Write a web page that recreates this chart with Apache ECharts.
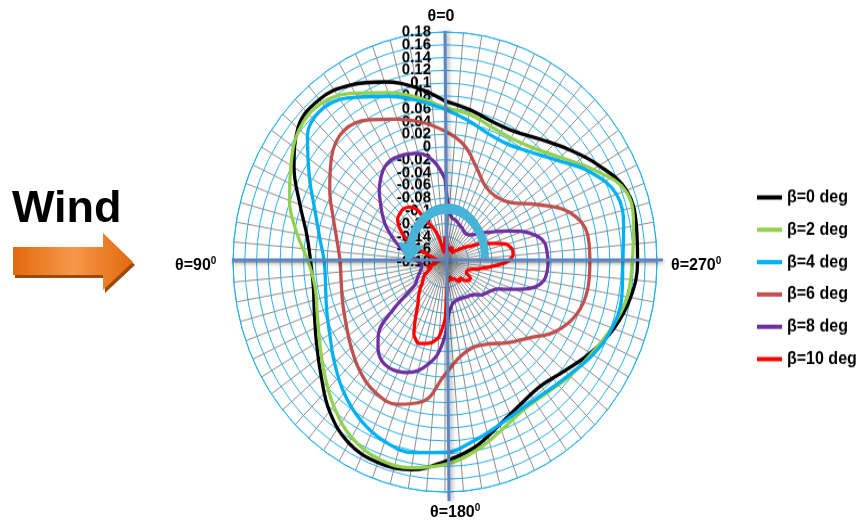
<!DOCTYPE html>
<html><head><meta charset="utf-8">
<script src="https://cdn.jsdelivr.net/npm/echarts@6/dist/echarts.min.js"></script>
<style>
html,body{margin:0;padding:0;background:#fff;}
#wrap{position:relative;width:857px;height:524px;overflow:hidden;background:#fff;}
#polar{position:absolute;left:0;top:0;width:857px;height:524px;transform-origin:445px 262px;transform:scaleY(1.085);}
#overlay{position:absolute;left:0;top:0;width:857px;height:524px;pointer-events:none;}
</style></head><body>
<div id="wrap"><div id="polar"></div><div id="overlay"></div></div>
<script>
// ---- data ----
const seriesNames = ['β=0 deg','β=2 deg','β=4 deg','β=6 deg','β=8 deg','β=10 deg'];
const angles10 = [0,10,20,30,40,50,60,70,80,90,100,110,120,130,140,150,160,170,180,190,200,210,220,230,240,250,260,270,280,290,300,310,320,330,340,350];
const angles5 = [0,5,10,15,20,25,30,35,40,45,50,55,60,65,70,75,80,85,90,95,100,105,110,115,120,125,130,135,140,145,150,155,160,165,170,175,180,185,190,195,200,205,210,215,220,225,230,235,240,245,250,255,260,265,270,275,280,285,290,295,300,305,310,315,320,325,330,335,340,345,350,355];
const beta0 = [0.072,0.097,0.120,0.140,0.152,0.146,0.116,0.082,0.058,0.048,0.047,0.056,0.072,0.095,0.125,0.147,0.154,0.150,0.132,0.114,0.091,0.077,0.073,0.085,0.105,0.125,0.140,0.147,0.150,0.148,0.122,0.094,0.071,0.056,0.054,0.062];
const beta2 = [0.061,0.081,0.102,0.125,0.145,0.143,0.122,0.101,0.075,0.052,0.044,0.051,0.066,0.088,0.114,0.137,0.148,0.147,0.137,0.120,0.100,0.087,0.088,0.097,0.107,0.121,0.134,0.138,0.145,0.146,0.110,0.075,0.053,0.044,0.046,0.055];
const beta4 = [0.059,0.076,0.096,0.118,0.137,0.125,0.086,0.055,0.036,0.025,0.026,0.034,0.046,0.065,0.087,0.106,0.119,0.123,0.118,0.104,0.091,0.084,0.086,0.095,0.110,0.122,0.125,0.122,0.128,0.130,0.103,0.068,0.045,0.033,0.034,0.045];
const beta6 = [0.025,0.042,0.058,0.077,0.088,0.072,0.046,0.022,0.006,-0.002,-0.001,0.005,0.014,0.028,0.044,0.056,0.057,0.042,-0.004,-0.030,-0.038,-0.032,-0.015,0.005,0.037,0.058,0.066,0.066,0.066,0.046,0.000,-0.035,-0.046,-0.043,-0.023,0.006];
const beta8 = [-0.050,-0.028,-0.012,-0.004,0.000,0.003,0.004,0.000,-0.010,-0.022,-0.037,-0.050,-0.063,-0.078,-0.092,-0.105,-0.118,-0.128,-0.135,-0.140,-0.140,-0.138,-0.135,-0.130,-0.125,-0.118,-0.068,-0.020,-0.003,0.008,0.011,0.009,0.004,-0.004,-0.018,-0.035,-0.065,-0.100,-0.112,-0.116,-0.117,-0.117,-0.116,-0.114,-0.112,-0.108,-0.100,-0.095,-0.090,-0.080,-0.055,-0.025,-0.010,-0.006,-0.005,-0.006,-0.008,-0.020,-0.040,-0.065,-0.085,-0.100,-0.112,-0.120,-0.123,-0.123,-0.120,-0.118,-0.115,-0.112,-0.110,-0.100];
const beta10 = [-0.140,-0.165,-0.160,-0.140,-0.125,-0.110,-0.085,-0.075,-0.071,-0.072,-0.075,-0.085,-0.100,-0.125,-0.155,-0.165,-0.170,-0.165,-0.160,-0.165,-0.160,-0.150,-0.155,-0.150,-0.140,-0.135,-0.130,-0.120,-0.110,-0.100,-0.080,-0.055,-0.045,-0.048,-0.052,-0.062,-0.090,-0.140,-0.155,-0.150,-0.155,-0.150,-0.150,-0.145,-0.140,-0.145,-0.135,-0.130,-0.130,-0.140,-0.140,-0.135,-0.120,-0.100,-0.075,-0.064,-0.064,-0.072,-0.095,-0.110,-0.130,-0.140,-0.150,-0.155,-0.160,-0.160,-0.155,-0.155,-0.160,-0.160,-0.155,-0.150];
const radiusMin = -0.18, radiusMax = 0.18, radiusStep = 0.02;

// ---- build ----
const colors = ['#000000','#92D050','#00B0F0','#C0504D','#7030A0','#FF0000'];
const valueSets = [beta0,beta2,beta4,beta6,beta8,beta10];
const angleSets = [angles10,angles10,angles10,angles10,angles5,angles5];
const smoothing = [0.4,0.4,0.4,0.4,0.35,0.15];
function loop(vals, angs){ const d = vals.map((v,i)=>[v, angs[i]]); d.push([vals[0], 360]); return d; }
// ticks are split over two identical radius axes (even / odd steps) so ECharts does not drop any as overlapping
const tickIndex = v => Math.round((v - radiusMin) / radiusStep);
const labelStyle = {color:'#000', fontSize:15, fontWeight:'bold', fontFamily:'Liberation Sans', margin:14, showMinLabel:true, showMaxLabel:true};

const polarChart = echarts.init(document.getElementById('polar'));
polarChart.setOption({
  animation:false,
  backgroundColor:'transparent',
  polar:[{center:[445,262], radius:212},{center:[445,262], radius:212}],
  angleAxis:[
    {polarIndex:0, type:'value', min:0, max:360, interval:5, startAngle:90, clockwise:false,
      axisLine:{show:true, lineStyle:{color:'#22B0E8', width:1}},
      axisTick:{show:false}, axisLabel:{show:false},
      splitLine:{show:true, lineStyle:{color:'#8C8C8C', width:1}}},
    {polarIndex:1, type:'value', min:0, max:360, interval:5, startAngle:90, clockwise:false,
      axisLine:{show:false}, axisTick:{show:false}, axisLabel:{show:false}, splitLine:{show:false}}
  ],
  radiusAxis:[
    {polarIndex:0, type:'value', min:radiusMin, max:radiusMax, interval:radiusStep,
      axisLine:{show:false}, axisTick:{show:false},
      axisLabel:Object.assign({formatter: v => tickIndex(v) % 2 === 0 ? String(v) : ''}, labelStyle),
      splitLine:{show:true, lineStyle:{color:'#22B0E8', width:1}}},
    {polarIndex:1, type:'value', min:radiusMin, max:radiusMax, interval:radiusStep,
      axisLine:{show:false}, axisTick:{show:false}, splitLine:{show:false},
      axisLabel:Object.assign({formatter: v => tickIndex(v) % 2 === 1 ? String(v) : ''}, labelStyle)}
  ],
  legend:{orient:'vertical', left:757, top:194.5, padding:0, itemWidth:25, itemHeight:4, itemGap:13.8, icon:'rect',
    textStyle:{fontSize:16, fontWeight:'bold', color:'#000', fontFamily:'Liberation Sans'},
    data:seriesNames},
  series: seriesNames.map((n,i)=>({
    name:n, type:'line', coordinateSystem:'polar', polarIndex:0, symbol:'none', smooth:smoothing[i],
    lineStyle:{color:colors[i], width:3.3}, itemStyle:{color:colors[i]},
    data: loop(valueSets[i], angleSets[i])
  }))
});

const overlay = echarts.init(document.getElementById('overlay'));
const lab = (txt, x, y, align) => ({
  type:'text', x:x, y:y, z:10,
  style:{text:'{a|'+txt+'}{s|0}', align:align, verticalAlign:'middle',
    rich:{a:{fontSize:16, fontWeight:'bold', fontFamily:'Liberation Sans', fill:'#000', lineHeight:18, verticalAlign:'bottom'},
          s:{fontSize:10, fontWeight:'bold', fontFamily:'Liberation Sans', fill:'#000', lineHeight:10, verticalAlign:'top'}}}
});
overlay.setOption({
  animation:false,
  backgroundColor:'transparent',
  graphic:[
    {type:'text', x:12, y:210, z:10, style:{text:'Wind', font:'bold 45px "Liberation Sans"', fill:'#000', align:'left', verticalAlign:'middle'}},
    {type:'polygon', z:5, shape:{points:[[13,247],[103,247],[103,233],[133,262],[103,290],[103,275],[13,275]]},
      style:{fill:{type:'linear',x:0,y:0,x2:1,y2:0,colorStops:[{offset:0,color:'#E2690C'},{offset:0.5,color:'#F6974C'},{offset:1,color:'#E2690C'}]},
        shadowColor:'#9A4A0C', shadowOffsetX:2, shadowOffsetY:3, shadowBlur:0}},
    {type:'text', x:441, y:17, z:10, style:{text:'θ=0', font:'bold 16px "Liberation Sans"', fill:'#000', align:'center', verticalAlign:'middle'}},
    lab('θ=90', 175, 265, 'left'),
    lab('θ=270', 671, 265, 'left'),
    lab('θ=180', 430, 512, 'left'),
    {type:'line', z:8, shape:{x1:232,y1:260,x2:663,y2:260}, style:{stroke:'#5A86C2', lineWidth:3, shadowColor:'rgba(0,0,0,0.35)', shadowBlur:4, shadowOffsetY:2}},
    {type:'line', z:8, shape:{x1:445,y1:31,x2:449,y2:501}, style:{stroke:'#5A86C2', lineWidth:3, shadowColor:'rgba(0,0,0,0.35)', shadowBlur:4, shadowOffsetX:2}},
    {type:'arc', z:9, x:447, y:258, scaleY:1.3, shape:{cx:0, cy:0, r:38, startAngle:Math.PI, endAngle:2*Math.PI, clockwise:true},
      style:{stroke:'#45B4D8', lineWidth:8, fill:null}},
    {type:'polygon', z:9, shape:{points:[[398,242],[424,246],[408,263]]}, style:{fill:'#45B4D8'}}
  ]
});
</script>
</body></html>
